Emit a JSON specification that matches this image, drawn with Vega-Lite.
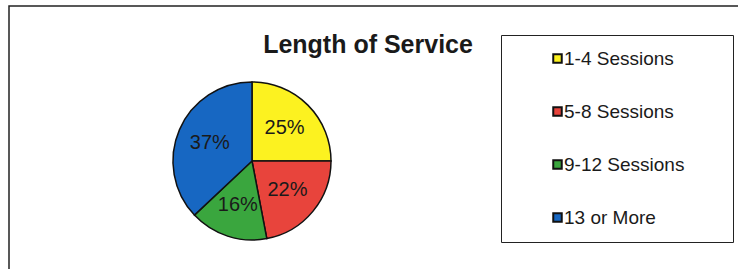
{
  "$schema": "https://vega.github.io/schema/vega-lite/v6.json",
  "width": 760,
  "height": 290,
  "autosize": "none",
  "padding": {"left": 9, "top": 6, "right": 0, "bottom": 0},
  "background": "white",
  "view": {"stroke": "#222222", "strokeWidth": 1.5, "fill": "white"},
  "title": {
    "text": "Length of Service",
    "orient": "top",
    "anchor": "middle",
    "offset": -72,
    "baseline": "alphabetic",
    "dx": -21,
    "font": "Liberation Sans",
    "fontSize": 25,
    "fontWeight": "bold",
    "color": "#1a1a1a"
  },
  "data": {
    "values": [
      {"category": "1-4 Sessions", "pct": 25, "label": "25%", "k": 1},
      {"category": "5-8 Sessions", "pct": 22, "label": "22%", "k": 2},
      {"category": "9-12 Sessions", "pct": 16, "label": "16%", "k": 3},
      {"category": "13 or More", "pct": 37, "label": "37%", "k": 4}
    ]
  },
  "encoding": {
    "theta": {"field": "pct", "type": "quantitative", "stack": true},
    "order": {"field": "k", "type": "quantitative"}
  },
  "layer": [
    {
      "mark": {"type": "arc", "x": 243, "y": 155, "outerRadius": 79, "stroke": "#111111", "strokeWidth": 1.5},
      "encoding": {
        "color": {
          "field": "category",
          "type": "nominal",
          "scale": {
            "domain": ["1-4 Sessions", "5-8 Sessions", "9-12 Sessions", "13 or More"],
            "range": ["#FCF220", "#E8443C", "#3AA63E", "#1767C2"]
          },
          "legend": {
            "orient": "none",
            "legendX": 492,
            "legendY": 29,
            "title": "\u00a0",
            "titleOrient": "right",
            "titlePadding": 35,
            "titleFontSize": 2,
            "titleColor": "white",
            "strokeColor": "#222222",
            "fillColor": "white",
            "padding": 14,
            "symbolType": "square",
            "symbolSize": 72,
            "symbolStrokeColor": "#111111",
            "symbolStrokeWidth": 2,
            "symbolOpacity": 1,
            "labelFont": "Liberation Sans",
            "labelFontSize": 19,
            "labelColor": "#1a1a1a",
            "rowPadding": 33,
            "labelOffset": -3,
            "symbolOffset": 33,
            "labelLimit": 400
          }
        }
      }
    },
    {
      "mark": {"type": "text", "x": 243, "y": 155, "radius": 46, "font": "Liberation Sans", "fontSize": 20, "fill": "#1a1a1a"},
      "encoding": {
        "text": {"field": "label", "type": "nominal"}
      }
    }
  ],
  "config": {
    "view": {"stroke": "#222222", "strokeWidth": 1.5},
    "style": {"cell": {"stroke": "#222222", "strokeWidth": 1.5}}
  }
}
